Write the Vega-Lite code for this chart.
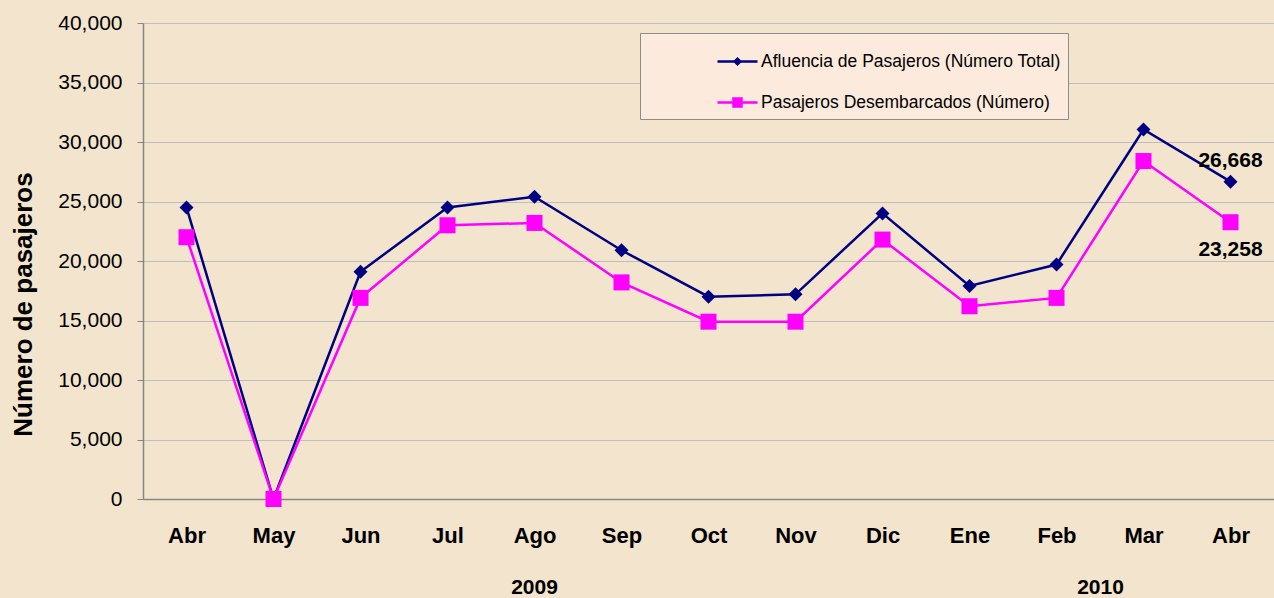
{
  "$schema": "https://vega.github.io/schema/vega-lite/v6.json",
  "width": 1131,
  "height": 476,
  "autosize": "none",
  "padding": {"left": 143, "top": 23, "right": 0, "bottom": 99},
  "background": "#F2E4CD",
  "config": {"view": {"stroke": null}, "font": "Liberation Sans"},
  "data": {
    "values": [
      {"periodo": "Abr-2009", "serie": "Afluencia de Pasajeros (Número Total)", "valor": 24500},
      {"periodo": "May-2009", "serie": "Afluencia de Pasajeros (Número Total)", "valor": 0},
      {"periodo": "Jun-2009", "serie": "Afluencia de Pasajeros (Número Total)", "valor": 19100},
      {"periodo": "Jul-2009", "serie": "Afluencia de Pasajeros (Número Total)", "valor": 24500},
      {"periodo": "Ago-2009", "serie": "Afluencia de Pasajeros (Número Total)", "valor": 25400},
      {"periodo": "Sep-2009", "serie": "Afluencia de Pasajeros (Número Total)", "valor": 20900},
      {"periodo": "Oct-2009", "serie": "Afluencia de Pasajeros (Número Total)", "valor": 17000},
      {"periodo": "Nov-2009", "serie": "Afluencia de Pasajeros (Número Total)", "valor": 17200},
      {"periodo": "Dic-2009", "serie": "Afluencia de Pasajeros (Número Total)", "valor": 24000},
      {"periodo": "Ene-2010", "serie": "Afluencia de Pasajeros (Número Total)", "valor": 17900},
      {"periodo": "Feb-2010", "serie": "Afluencia de Pasajeros (Número Total)", "valor": 19700},
      {"periodo": "Mar-2010", "serie": "Afluencia de Pasajeros (Número Total)", "valor": 31050},
      {"periodo": "Abr-2010", "serie": "Afluencia de Pasajeros (Número Total)", "valor": 26668},
      {"periodo": "Abr-2009", "serie": "Pasajeros Desembarcados (Número)", "valor": 22000},
      {"periodo": "May-2009", "serie": "Pasajeros Desembarcados (Número)", "valor": 0},
      {"periodo": "Jun-2009", "serie": "Pasajeros Desembarcados (Número)", "valor": 16900},
      {"periodo": "Jul-2009", "serie": "Pasajeros Desembarcados (Número)", "valor": 23000},
      {"periodo": "Ago-2009", "serie": "Pasajeros Desembarcados (Número)", "valor": 23200},
      {"periodo": "Sep-2009", "serie": "Pasajeros Desembarcados (Número)", "valor": 18200},
      {"periodo": "Oct-2009", "serie": "Pasajeros Desembarcados (Número)", "valor": 14900},
      {"periodo": "Nov-2009", "serie": "Pasajeros Desembarcados (Número)", "valor": 14900},
      {"periodo": "Dic-2009", "serie": "Pasajeros Desembarcados (Número)", "valor": 21800},
      {"periodo": "Ene-2010", "serie": "Pasajeros Desembarcados (Número)", "valor": 16200},
      {"periodo": "Feb-2010", "serie": "Pasajeros Desembarcados (Número)", "valor": 16900},
      {"periodo": "Mar-2010", "serie": "Pasajeros Desembarcados (Número)", "valor": 28400},
      {"periodo": "Abr-2010", "serie": "Pasajeros Desembarcados (Número)", "valor": 23258}
    ]
  },
  "encoding": {
    "x": {
      "field": "periodo", "type": "ordinal", "sort": null,
      "scale": {"type": "point", "padding": 0.5},
      "axis": {
        "title": null, "labelExpr": "split(datum.label, '-')[0]", "labelAngle": 0,
        "labelFontSize": 22, "labelFontWeight": "bold", "labelColor": "#000000",
        "labelPadding": 26, "ticks": false, "grid": false,
        "domainColor": "#868686", "domainWidth": 1.5
      }
    },
    "y": {
      "field": "valor", "type": "quantitative",
      "scale": {"domain": [0, 40000], "nice": false},
      "axis": {
        "values": [0, 5000, 10000, 15000, 20000, 25000, 30000, 35000, 40000],
        "format": ",d", "labelFontSize": 21, "labelColor": "#000000", "labelPadding": 15,
        "tickSize": 6, "tickColor": "#868686", "domainColor": "#868686", "domainWidth": 1.5,
        "gridColor": "#BDBDBD", "gridWidth": 1.2,
        "title": "Número de pasajeros", "titleFontSize": 26, "titleFontWeight": "bold",
        "titleColor": "#000000", "titleX": -120, "titleY": 281,
        "titleAlign": "center", "titleBaseline": "middle", "titleAngle": 270
      }
    }
  },
  "layer": [
    {
      "mark": {"type": "line", "strokeWidth": 2.5},
      "encoding": {
        "color": {
          "field": "serie", "type": "nominal",
          "scale": {
            "domain": ["Afluencia de Pasajeros (Número Total)", "Pasajeros Desembarcados (Número)"],
            "range": ["#000080", "#FF00FF"]
          },
          "legend": {
            "orient": "none", "legendX": 497, "legendY": 10, "direction": "vertical",
            "title": null, "fillColor": "#FCEBDD", "strokeColor": "#8C8C8C", "padding": 7,
            "symbolSize": 1600, "symbolOffset": 69, "labelOffset": 2,
            "labelFontSize": 17.5, "labelColor": "#000000", "rowPadding": 11,
            "labelLimit": 400,
            "encoding": {
              "symbols": {
                "shape": {
                  "condition": {"test": "datum.value === 'Afluencia de Pasajeros (Número Total)'", "value": "M-1,0H1M-0.14,0L0,-0.14L0.14,0L0,0.14Z"},
                  "value": "M-1,0H1M-0.2,-0.2H0.2V0.2H-0.2Z"
                },
                "fill": {
                  "condition": {"test": "datum.value === 'Afluencia de Pasajeros (Número Total)'", "value": "#000080"},
                  "value": "#FF00FF"
                },
                "fillOpacity": {"value": 1},
                "strokeWidth": {"value": 2.5}
              }
            }
          }
        }
      }
    },
    {
      "transform": [{"filter": "datum.serie === 'Afluencia de Pasajeros (Número Total)'"}],
      "mark": {"type": "point", "filled": true, "opacity": 1, "shape": "diamond", "size": 196, "color": "#000080"}
    },
    {
      "transform": [{"filter": "datum.serie === 'Pasajeros Desembarcados (Número)'"}],
      "mark": {"type": "point", "filled": true, "opacity": 1, "shape": "square", "size": 256, "color": "#FF00FF"}
    },
    {
      "transform": [{"filter": "datum.periodo === 'Abr-2010' && datum.serie === 'Afluencia de Pasajeros (Número Total)'"}],
      "mark": {"type": "text", "fontSize": 21, "fontWeight": "bold", "color": "#000000", "dy": -21, "align": "center", "baseline": "middle"},
      "encoding": {"text": {"field": "valor", "type": "quantitative", "format": ",d"}}
    },
    {
      "transform": [{"filter": "datum.periodo === 'Abr-2010' && datum.serie === 'Pasajeros Desembarcados (Número)'"}],
      "mark": {"type": "text", "fontSize": 21, "fontWeight": "bold", "color": "#000000", "dy": 28, "align": "center", "baseline": "middle"},
      "encoding": {"text": {"field": "valor", "type": "quantitative", "format": ",d"}}
    },
    {
      "transform": [{"filter": "datum.periodo === 'Ago-2009' && datum.serie === 'Pasajeros Desembarcados (Número)'"}],
      "mark": {"type": "text", "fontSize": 21, "fontWeight": "bold", "color": "#000000", "dy": 89, "align": "center", "baseline": "middle", "clip": false},
      "encoding": {"y": {"datum": 0, "type": "quantitative"}, "text": {"value": "2009"}}
    },
    {
      "transform": [{"filter": "datum.periodo === 'Mar-2010' && datum.serie === 'Pasajeros Desembarcados (Número)'"}],
      "mark": {"type": "text", "fontSize": 21, "fontWeight": "bold", "color": "#000000", "dy": 89, "dx": -43, "align": "center", "baseline": "middle", "clip": false},
      "encoding": {"y": {"datum": 0, "type": "quantitative"}, "text": {"value": "2010"}}
    }
  ]
}
